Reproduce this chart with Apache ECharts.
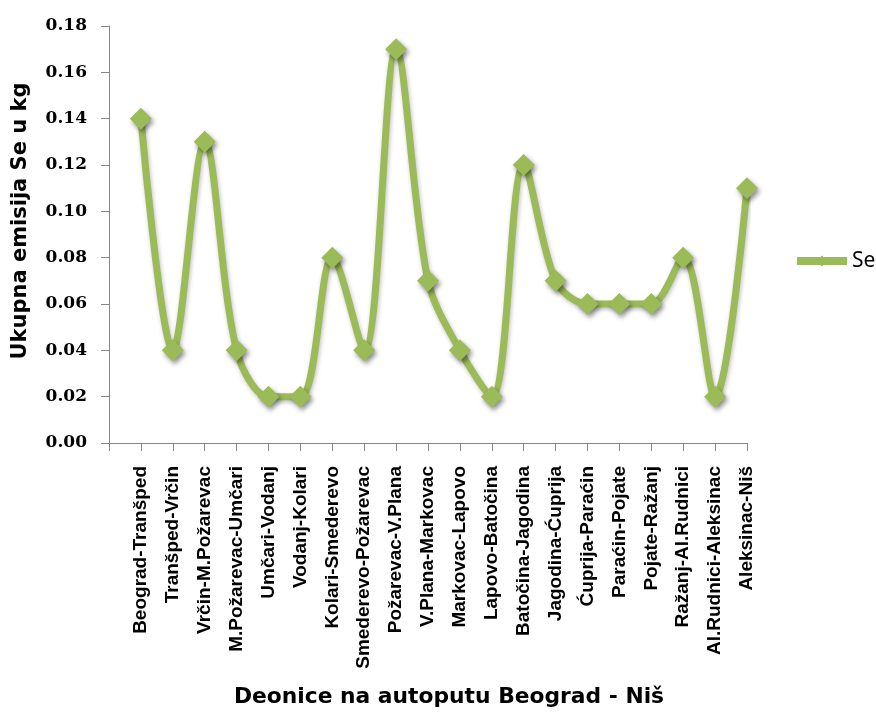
<!DOCTYPE html>
<html>
<head>
<meta charset="utf-8">
<script src="https://cdn.jsdelivr.net/npm/echarts@6/dist/echarts.min.js"></script>
<style>
html,body{margin:0;padding:0;background:#fff;}
#chart{width:876px;height:717px;}
</style>
</head>
<body>
<div id="chart"></div>
<script>
var categories = ['Beograd-Tranšped','Tranšped-Vrčin','Vrčin-M.Požarevac','M.Požarevac-Umčari','Umčari-Vodanj','Vodanj-Kolari','Kolari-Smederevo','Smederevo-Požarevac','Požarevac-V.Plana','V.Plana-Markovac','Markovac-Lapovo','Lapovo-Batočina','Batočina-Jagodina','Jagodina-Ćuprija','Ćuprija-Paraćin','Paraćin-Pojate','Pojate-Ražanj','Ražanj-Al.Rudnici','Al.Rudnici-Aleksinac','Aleksinac-Niš'];
var seValues = [0.14,0.04,0.13,0.04,0.02,0.02,0.08,0.04,0.17,0.07,0.04,0.02,0.12,0.07,0.06,0.06,0.06,0.08,0.02,0.11];
var seriesName = 'Se';
var yTitle = 'Ukupna emisija Se u kg';
var xTitle = 'Deonice na autoputu Beograd - Niš';

var axisCats = [''].concat(categories);
var axisVals = ['-'].concat(seValues);
var green = '#9BBB59';

var chart = echarts.init(document.getElementById('chart'), null, {renderer:'canvas'});
chart.setOption({
  animation:false,
  backgroundColor:'#fff',
  grid:{left:109,right:129,top:26,bottom:274,containLabel:false},
  legend:{
    show:true, left:793, top:250, orient:'vertical', padding:0,
    itemWidth:50, itemHeight:14,
    data:[seriesName],
    lineStyle:{width:8,color:green},
    itemStyle:{color:green},
    textStyle:{fontFamily:'Noto Sans',fontSize:21,color:'#000',lineHeight:22}
  },
  xAxis:{
    type:'category', data:axisCats, boundaryGap:false,
    axisLine:{lineStyle:{color:'#868686',width:1}},
    axisTick:{show:true,length:8,inside:false,interval:0,lineStyle:{color:'#868686'}},
    axisLabel:{interval:0,rotate:90,margin:23,color:'#000',fontFamily:'Liberation Sans',fontWeight:'bold',fontSize:19},
    splitLine:{show:false}
  },
  yAxis:{
    type:'value', min:0, max:0.18, interval:0.02,
    axisLine:{show:true,lineStyle:{color:'#868686',width:1}},
    axisTick:{show:true,length:8,lineStyle:{color:'#868686'}},
    axisLabel:{margin:22,color:'#000',fontFamily:'DejaVu Serif',fontWeight:'bold',fontSize:17,
      formatter:function(v){return v.toFixed(2);}},
    splitLine:{show:false}
  },
  graphic:[
    {type:'text', x:21, y:221, rotation:Math.PI/2,
     style:{text:yTitle, fill:'#000', font:'bold 21px "DejaVu Sans"', textAlign:'center', textVerticalAlign:'middle'}},
    {type:'text', x:449, y:697,
     style:{text:xTitle, fill:'#000', font:'bold 21.8px "DejaVu Sans"', textAlign:'center', textVerticalAlign:'middle'}}
  ],
  series:[{
    name:seriesName, type:'line', data:axisVals, smooth:0.33,
    symbol:'diamond', symbolSize:22,
    lineStyle:{color:green,width:7,shadowColor:'rgba(0,0,0,0.25)',shadowBlur:4,shadowOffsetX:1,shadowOffsetY:2},
    itemStyle:{color:green,shadowColor:'rgba(0,0,0,0.45)',shadowBlur:5,shadowOffsetX:2,shadowOffsetY:3}
  }]
});
</script>
</body>
</html>
